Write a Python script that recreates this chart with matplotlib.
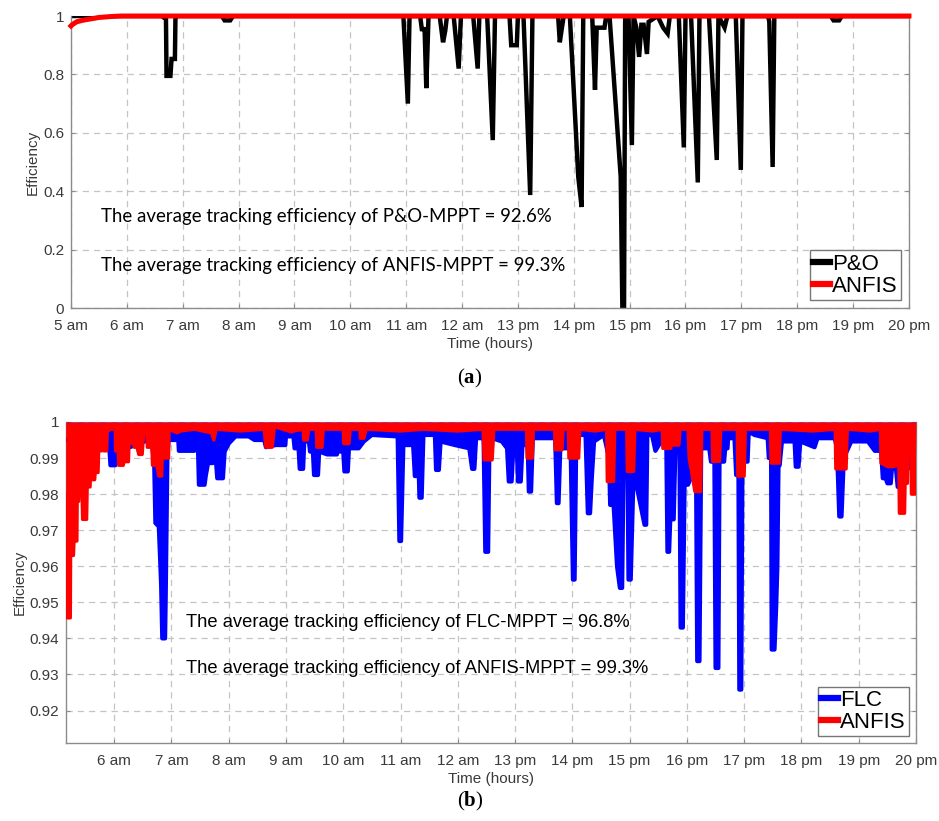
import matplotlib
matplotlib.use("Agg")
import matplotlib.pyplot as plt

plt.rcParams["font.family"] = ["Liberation Sans", "DejaVu Sans"]
plt.rcParams["mathtext.fontset"] = "custom"
plt.rcParams["mathtext.rm"] = "Liberation Serif"
plt.rcParams["mathtext.bf"] = "Liberation Serif:bold"

# ---------------- (a) P&O vs ANFIS ----------------
po_time = [5.0, 6.64, 6.66, 6.70, 6.71, 6.78, 6.80, 6.86, 6.87, 6.90, 7.70, 7.75, 7.85, 7.90,
           10.95, 11.03, 11.06, 11.25, 11.28, 11.33, 11.36, 11.40, 11.60, 11.66, 11.70, 11.73,
           11.85, 11.94, 11.98, 12.20, 12.28, 12.31, 12.45, 12.55, 12.59, 12.85, 12.88, 12.98,
           13.00, 13.10, 13.22, 13.26, 13.72, 13.75, 13.78, 13.82, 13.93, 14.08, 14.14, 14.17,
           14.33, 14.38, 14.41, 14.55, 14.58, 14.64, 14.84, 14.87, 14.90, 14.92, 14.98, 15.04,
           15.07, 15.12, 15.17, 15.21, 15.25, 15.31, 15.34, 15.50, 15.60, 15.68, 15.72, 15.88,
           15.97, 16.00, 16.10, 16.22, 16.25, 16.42, 16.56, 16.59, 16.70, 16.75, 16.90, 16.99,
           17.02, 17.48, 17.50, 17.56, 17.59, 18.60, 18.65, 18.75, 18.80, 20.0]
po_eff = [1.0, 1.0, 0.995, 0.995, 0.795, 0.795, 0.853, 0.853, 0.995, 1.0, 1.0, 0.985, 0.985, 1.0,
          1.0, 0.70, 1.0, 1.0, 0.955, 0.955, 0.753, 1.0, 1.0, 0.91, 0.95, 1.0,
          1.0, 0.82, 1.0, 1.0, 0.82, 1.0, 1.0, 0.575, 1.0, 1.0, 0.90, 0.90,
          1.0, 1.0, 0.387, 1.0, 1.0, 0.91, 0.95, 1.0, 1.0, 0.45, 0.346, 1.0,
          1.0, 0.747, 0.96, 0.96, 1.0, 1.0, 0.45, 0.0, 0.0, 1.0, 1.0, 0.558,
          1.0, 0.96, 0.86, 0.97, 0.97, 0.87, 0.98, 1.0, 0.96, 0.94, 1.0, 1.0,
          0.55, 1.0, 1.0, 0.43, 1.0, 1.0, 0.507, 1.0, 0.96, 1.0, 1.0, 0.473,
          1.0, 1.0, 0.98, 0.483, 1.0, 1.0, 0.985, 0.985, 1.0, 1.0]

anfis_a_time = [5.0, 5.02, 5.10, 5.20, 5.35, 5.50, 5.70, 5.90, 20.0]
anfis_a_eff = [0.966, 0.970, 0.980, 0.985, 0.990, 0.995, 0.998, 1.0, 1.0]

# ---------------- (b) FLC vs ANFIS ----------------
flc_time = [5.16, 5.78, 5.906, 5.935, 6.022, 6.034, 6.11, 6.60, 6.66, 6.70, 6.72, 6.78, 6.82,
            6.84, 6.89, 6.90, 6.93, 6.95, 7.12, 7.13, 7.40, 7.42, 7.46, 7.48, 7.58, 7.60, 7.64,
            7.72, 7.76, 7.80, 7.90, 7.93, 8.00, 8.12, 8.35, 8.45, 8.62, 8.65,
            8.82, 8.99, 9.00, 9.13, 9.15, 9.22, 9.24, 9.30, 9.32, 9.40, 9.42, 9.47, 9.49, 9.56,
            9.58, 9.72, 9.89, 9.90, 10.00, 10.02, 10.08, 10.10, 10.27, 10.36, 10.50, 10.95,
            10.98, 11.01, 11.05, 11.22, 11.25, 11.32, 11.33, 11.37, 11.40, 11.60, 11.62, 11.67,
            11.70, 11.95, 12.20, 12.25, 12.29, 12.32, 12.45, 12.48, 12.53, 12.55,
            12.60, 12.77, 12.86, 12.89, 12.94, 12.97, 13.03, 13.05, 13.10, 13.13, 13.22, 13.24,
            13.28, 13.31, 13.70, 13.73, 13.76, 13.79, 13.97, 14.01, 14.04, 14.07, 14.23, 14.27,
            14.31, 14.34, 14.38, 14.55, 14.64, 14.66, 14.72, 14.78, 14.83, 14.87, 14.90, 14.96,
            14.98, 15.02, 15.07, 15.26, 15.29, 15.31, 15.39, 15.45, 15.55, 15.64, 15.66, 15.69,
            15.71, 15.77, 15.80, 15.87, 15.89, 15.93, 15.96, 16.02, 16.09, 16.16, 16.18, 16.22,
            16.25, 16.39, 16.42, 16.48, 16.50, 16.55, 16.57, 16.65, 16.67, 16.71, 16.72, 16.83,
            16.86, 16.90, 16.915, 16.95, 16.97, 17.06, 17.08, 17.18, 17.41, 17.43, 17.47, 17.48,
            17.53, 17.56, 17.58, 17.60, 17.62, 17.66, 17.88, 17.90, 17.95, 17.98, 18.23, 18.28,
            18.58, 18.62, 18.66, 18.70, 18.74, 18.87, 19.16, 19.28, 19.39, 19.42, 19.47, 19.50,
            19.56, 19.58, 19.65, 19.68, 19.72, 19.75, 19.82, 19.86, 19.90, 20.0]
flc_eff = [0.995, 0.996, 0.9955, 0.988, 0.988, 0.992, 0.992, 0.995, 0.994, 0.988, 0.972, 0.971, 0.955,
           0.940, 0.940, 0.950, 0.990, 0.995, 0.995, 0.992, 0.992, 0.995, 0.995, 0.9826, 0.9826, 0.985, 0.9886,
           0.9886, 0.993, 0.9844, 0.9844, 0.9918, 0.994, 0.996, 0.996, 0.995, 0.995, 0.993,
           0.9936, 0.9936, 0.996, 0.996, 0.9927, 0.9927, 0.987, 0.987, 0.9946, 0.9946, 0.9918, 0.9918, 0.9853, 0.9853,
           0.9918, 0.991, 0.991, 0.9918, 0.9918, 0.9863, 0.9863, 0.9927, 0.9927, 0.9946, 0.9964, 0.996,
           0.967, 0.967, 0.9936, 0.9936, 0.985, 0.985, 0.979, 0.979, 0.9964, 0.9964, 0.9867, 0.9867,
           0.9946, 0.9936, 0.9927, 0.987, 0.987, 0.9955, 0.9955, 0.964, 0.964, 0.990,
           0.9955, 0.9946, 0.9927, 0.9835, 0.9835, 0.9927, 0.9927, 0.9835, 0.9835, 0.9936, 0.9936, 0.9807,
           0.9807, 0.9955, 0.9955, 0.9775, 0.9775, 0.9927, 0.9927, 0.9563, 0.9563, 0.9964, 0.9964, 0.9747,
           0.9747, 0.9844, 0.9946, 0.9964, 0.990, 0.977, 0.977, 0.960, 0.954, 0.954, 0.995, 0.995,
           0.9563, 0.9563, 0.9863, 0.9715, 0.9715, 0.9964, 0.9964, 0.992, 0.9946, 0.9946, 0.964, 0.964,
           0.973, 0.973, 0.9927, 0.9927, 0.943, 0.943, 0.9826, 0.9826, 0.9853, 0.9853, 0.9337, 0.9337,
           0.9927, 0.9927, 0.989, 0.989, 0.9318, 0.9318, 0.989, 0.989, 0.9927, 0.9927, 0.9955, 0.9955,
           0.9853, 0.9853, 0.9258, 0.9258, 0.989, 0.989, 0.9973, 0.9964, 0.9955, 0.990, 0.990, 0.9369,
           0.9369, 0.949, 0.960, 0.988, 0.988, 0.9946, 0.9946, 0.9876, 0.9876, 0.9946, 0.993, 0.9955,
           0.9955, 0.9927, 0.9738, 0.9738, 0.990, 0.9946, 0.9946, 0.992, 0.992, 0.9844, 0.9844, 0.983,
           0.983, 0.987, 0.987, 0.982, 0.982, 0.9955, 0.987, 0.987, 0.9955, 0.9936]

anfis_b_time = [5.155, 5.16, 5.165, 5.235, 5.24, 5.29, 5.30, 5.35, 5.355, 5.38, 5.385, 5.44, 5.45,
                5.52, 5.53, 5.58, 5.585, 5.66, 5.67, 5.72, 5.73, 5.78, 5.79, 5.81, 5.82, 5.87,
                5.88, 5.935, 6.02, 6.025, 6.07, 6.08, 6.16, 6.17, 6.25, 6.26, 6.34, 6.35, 6.40,
                6.43, 6.49, 6.52, 6.57, 6.58, 6.66, 6.67, 6.75, 6.78, 6.83, 6.84, 6.95, 6.96,
                7.10, 7.16, 7.40, 7.70, 7.74, 7.78, 8.20, 8.62, 8.65, 8.76, 8.80, 9.08, 9.30,
                9.31, 9.37, 9.40, 9.53, 9.54, 9.63, 9.65, 10.00, 10.01, 10.10, 10.12, 10.29, 10.30,
                10.36, 10.40, 11.00, 11.40, 12.00, 12.44, 12.46, 12.60, 12.63, 13.20, 13.21, 13.30,
                13.32, 13.69, 13.70, 13.82, 13.84, 13.93, 13.94, 14.11, 14.13, 14.40, 14.60, 14.61,
                14.72, 14.74, 14.95, 14.96, 15.07, 15.09, 15.40, 15.57, 15.58, 15.72, 15.74, 15.77,
                15.86, 15.88, 16.02, 16.04, 16.14, 16.24, 16.26, 16.44, 16.45, 16.57, 16.59, 16.88,
                16.89, 17.00, 17.02, 17.46, 17.47, 17.61, 17.63, 18.20, 18.59, 18.60, 18.78, 18.80,
                19.20, 19.38, 19.39, 19.51, 19.60, 19.69, 19.70, 19.71, 19.80, 19.81, 19.85, 19.86,
                19.91, 19.92, 19.98, 20.0]
anfis_b_eff = [0.980, 0.958, 0.9457, 0.9457, 0.963, 0.963, 0.967, 0.967, 0.978, 0.978, 0.980, 0.980, 0.973,
               0.973, 0.982, 0.982, 0.984, 0.984, 0.986, 0.986, 0.992, 0.992, 0.998, 0.998, 0.992, 0.992,
               0.9973, 0.998, 0.998, 0.992, 0.992, 0.988, 0.988, 0.989, 0.989, 0.994, 0.994, 0.993, 0.993,
               0.991, 0.991, 0.998, 0.998, 0.993, 0.993, 0.988, 0.988, 0.985, 0.985, 0.990, 0.990, 0.998,
               0.997, 0.9975, 0.998, 0.997, 0.995, 0.998, 0.9975, 0.998, 0.993, 0.993, 0.9987, 0.9973, 0.998,
               0.995, 0.995, 0.998, 0.998, 0.993, 0.993, 0.998, 0.998, 0.994, 0.994, 0.998, 0.998, 0.9955,
               0.9955, 0.998, 0.9975, 0.998, 0.9975, 0.998, 0.9895, 0.9895, 0.998, 0.998, 0.990, 0.990,
               0.998, 0.998, 0.9923, 0.9923, 0.998, 0.998, 0.990, 0.990, 0.998, 0.9975, 0.998, 0.9835,
               0.9835, 0.998, 0.998, 0.9863, 0.9863, 0.998, 0.9975, 0.998, 0.9927, 0.9927, 0.998, 0.9936,
               0.9936, 0.998, 0.998, 0.990, 0.9807, 0.9807, 0.998, 0.998, 0.9891, 0.9891, 0.998, 0.998,
               0.985, 0.985, 0.998, 0.998, 0.9886, 0.9886, 0.998, 0.9975, 0.998, 0.987, 0.987, 0.998,
               0.9975, 0.998, 0.9886, 0.9876, 0.9876, 0.988, 0.988, 0.9747, 0.9747, 0.983, 0.983, 0.998,
               0.998, 0.980, 0.980, 0.998]

hour_ticks = list(range(5, 21))
hour_labels = ["5 am", "6 am", "7 am", "8 am", "9 am", "10 am", "11 am", "12 am",
               "13 pm", "14 pm", "15 pm", "16 pm", "17 pm", "18 pm", "19 pm", "20 pm"]
yticks_a = [0, 0.2, 0.4, 0.6, 0.8, 1.0]
ylabels_a = ["0", "0.2", "0.4", "0.6", "0.8", "1"]
yticks_b = [0.92, 0.93, 0.94, 0.95, 0.96, 0.97, 0.98, 0.99, 1.0]
ylabels_b = ["0.92", "0.93", "0.94", "0.95", "0.96", "0.97", "0.98", "0.99", "1"]

TICK_COLOR = "#3a3a3a"
GRID_COLOR = "#c4c4c4"
SPINE_COLOR = "#8c8c8c"


def style_axes(ax, xlim, ylim):
    ax.grid(True, color=GRID_COLOR, linestyle=(0, (5, 4)), linewidth=0.9)
    ax.set_axisbelow(True)
    ax.spines["top"].set_visible(False)
    for s in ("left", "right", "bottom"):
        ax.spines[s].set_color(SPINE_COLOR)
        ax.spines[s].set_linewidth(1.0)
    ax.tick_params(direction="in", length=3, color=SPINE_COLOR, labelcolor=TICK_COLOR,
                   labelsize=11, right=True)
    ax.tick_params(axis="x", pad=8)
    ax.tick_params(axis="y", pad=5)
    ax.set_xticks(hour_ticks)
    ax.set_xticklabels(hour_labels)
    ax.set_xlim(*xlim)
    ax.set_ylim(*ylim)
    ax.set_xlabel("Time (hours)", fontsize=11, color=TICK_COLOR, labelpad=3)
    ax.set_ylabel("Efficiency", fontsize=11, color=TICK_COLOR, labelpad=2)


fig = plt.figure(figsize=(9.39, 8.21), dpi=100)

# panel (a)
ax1 = fig.add_axes([0.0756, 0.6248, 0.8924, 0.3557])
ax1.plot(po_time, po_eff, color="black", linewidth=3.2, label="P&O", solid_joinstyle="miter",
         zorder=2)
ax1.plot(anfis_a_time, anfis_a_eff, color="red", linewidth=3.6, label="ANFIS", clip_on=False,
         zorder=3)
ax1.set_yticks(yticks_a)
ax1.set_yticklabels(ylabels_a)
style_axes(ax1, (5, 20), (0, 1.0))
ax1.text(5.54, 0.315, "The average tracking efficiency of P&O-MPPT = 92.6%",
         fontsize=13.4, family="Lato", va="center", ha="left", color="black")
ax1.text(5.54, 0.144, "The average tracking efficiency of ANFIS-MPPT = 99.3%",
         fontsize=13.4, family="Lato", va="center", ha="left", color="black")
leg1 = ax1.legend(loc="lower right", fontsize=16, handlelength=0.75, handletextpad=0.1,
                  borderpad=0.15, labelspacing=0.05, borderaxespad=0.35, fancybox=False,
                  framealpha=1, edgecolor="#777777")
for line in leg1.get_lines():
    line.set_linewidth(4.5)

# panel (b)
ax2 = fig.add_axes([0.0703, 0.095, 0.9052, 0.391])
ax2.fill_between(flc_time, flc_eff, 1.0, color="blue", linewidth=0, zorder=2)
ax2.plot(flc_time, flc_eff, color="blue", linewidth=3.0, label="FLC", zorder=3)
ax2.fill_between(anfis_b_time, anfis_b_eff, 1.0, color="red", linewidth=0, zorder=4)
ax2.plot(anfis_b_time, anfis_b_eff, color="red", linewidth=2.4, label="ANFIS", zorder=5)
ax2.set_yticks(yticks_b)
ax2.set_yticklabels(ylabels_b)
style_axes(ax2, (5.16, 20.0), (0.911, 1.0))
ax2.text(7.26, 0.9444, "The average tracking efficiency of FLC-MPPT = 96.8%",
         fontsize=13.2, va="center", ha="left", color="black", zorder=6)
ax2.text(7.26, 0.9316, "The average tracking efficiency of ANFIS-MPPT = 99.3%",
         fontsize=13.2, va="center", ha="left", color="black", zorder=6)
leg2 = ax2.legend(loc="lower right", fontsize=16, handlelength=0.75, handletextpad=0.1,
                  borderpad=0.15, labelspacing=0.05, borderaxespad=0.3, fancybox=False,
                  framealpha=1, edgecolor="#777777")
leg2.set_zorder(10)
for line in leg2.get_lines():
    line.set_linewidth(4.5)

fig.text(0.5006, 1 - 378 / 821, r"($\mathbf{a}$)", ha="center", va="center",
         fontsize=15, family="Liberation Serif")
fig.text(0.5006, 1 - 801 / 821, r"($\mathbf{b}$)", ha="center", va="center",
         fontsize=15, family="Liberation Serif")

fig.savefig("out.png", dpi=100, facecolor="white")
